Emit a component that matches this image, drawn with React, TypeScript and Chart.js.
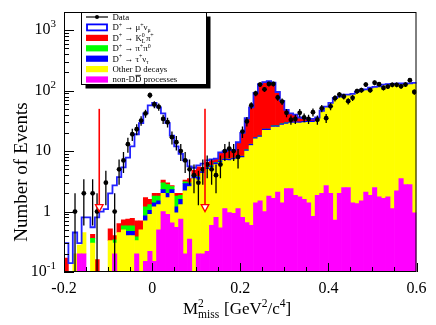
import React, { useEffect, useRef } from 'react';
import { Chart, registerables } from 'chart.js';

Chart.register(...registerables);

const SERIF = '"Liberation Serif", "Times New Roman", serif';

// ---- axes ----
const X_MIN = -0.2;
const X_MAX = 0.6;
const BIN_WIDTH = 0.01;
const Y_MIN = 0.1;
const Y_MAX = 2000;
const X_MAJOR_STEP = 0.2;
const X_MINOR_STEP = 0.05;
const Y_DECADES = [0.1, 1, 10, 100, 1000];

// ---- cut arrows ----
const ARROW_X = [-0.12, 0.12];
const ARROW_TOP = 50;
const ARROW_TIP = 1;

// ---- MC components (80 bins of 0.01 GeV^2/c^4 from -0.2 to 0.6) ----
const nonDD = [
  0, 0, 0, 0.2, 0.2, 0, 0, 0, 0, 0,
  0, 0.2, 0, 0, 0, 0, 0.2, 0, 0.15, 0.22,
  0.15, 0.5, 1.0, 0.9, 0.65, 0.55, 0.75, 0.2, 0.35, 0,
  0.2, 0.2, 0.22, 0.59, 0.8, 0.54, 1.12, 0.96, 0.93, 1.12,
  0.8, 0.66, 0.59, 1.4, 1.5, 1.0, 1.8, 1.65, 2.1, 1.4,
  2.4, 2.4, 1.85, 1.75, 1.6, 1.4, 0.83, 1.85, 2.0, 2.7,
  2.0, 0.72, 2.0, 2.5, 2.5, 1.4, 1.35, 1.5, 2.1, 1.85,
  2.5, 1.75, 1.65, 1.75, 1.12, 2.2, 3.5, 2.8, 2.8, 0.95,
];
const otherD = [
  0, 0, 0.2, 0.08, 0.25, 0, 0.3, 0, 0, 0,
  0.33, 0.1, 0.45, 0.5, 0.4, 0.4, 0.13, 0.5, 0.55, 0.68,
  1.05, 0.8, 1.0, 0.8, 1.35, 0.4, 0.55, 2.0, 2.25, 3.5,
  3.1, 4.1, 4.78, 4.81, 5.2, 6.0, 5.9, 6.0, 6.3, 6.4,
  7.0, 9.3, 11.8, 14.6, 15.5, 21, 20.2, 23.4, 22.9, 25.6,
  25.6, 26.6, 27.2, 27.3, 27.9, 28.6, 29.2, 29.2, 43.5, 51,
  60, 73.8, 76.7, 82.4, 82.4, 85.5, 93.9, 98.9, 101.4, 108.9,
  111.4, 114.2, 122.6, 124.6, 126.2, 126.1, 125.8, 126.5, 127.6, 131.4,
];
const tauNu = [
  0, 0, 0, 0, 0, 0, 0, 0, 0, 0,
  0, 0, 0, 0, 0.07, 0.07, 0, 0, 0.15, 0.15,
  0.2, 0.2, 0.3, 0.3, 0.3, 0.25, 0.3, 0.7, 0.3, 0.4,
  0.4, 0.3, 0.3, 0.3, 0.4, 0.3, 0.35, 0.35, 0.35, 0.4,
  0.4, 0.5, 0.6, 0.8, 0.85, 1.1, 1.1, 1.25, 1.25, 1.35,
  1.4, 1.45, 1.45, 1.5, 1.5, 1.5, 1.5, 1.6, 0.7, 0.8,
  0.9, 1.1, 1.1, 1.2, 1.2, 1.3, 1.4, 1.4, 1.5, 1.6,
  1.6, 1.7, 1.8, 1.8, 1.8, 1.9, 1.9, 1.9, 1.9, 2.0,
];
const pipi0 = [
  0, 0, 0, 0, 0, 0, 0.06, 0, 0, 0,
  0, 0.04, 0, 0.08, 0.11, 0.11, 0.05, 0, 0.35, 0.25,
  0.4, 0.3, 0.7, 0.8, 0.3, 0.6, 0.25, 0.2, 0.1, 0.1,
  0.1, 0.1, 0.1, 0.1, 0.1, 0.1, 0.1, 0.1, 0.1, 0.1,
  0.1, 0.1, 0.1, 0.1, 0.1, 0.1, 0.1, 0.1, 0.1, 0.1,
  0.1, 0, 0, 0, 0, 0, 0, 0, 0, 0,
  0, 0, 0, 0, 0, 0, 0, 0, 0, 0,
  0, 0, 0, 0, 0, 0, 0, 0, 0, 0,
];
const k0pi = [
  0.17, 0, 0, 0, 0, 0, 0.06, 0.16, 0, 0,
  0.19, 0.06, 0.18, 0.15, 0.17, 0.19, 0.32, 0.2, 0.5, 0.3,
  0.2, 0.2, 0.3, 0.2, 0.1, 0.2, 0.15, 0.2, 0.5, 0.8,
  1.7, 0.7, 1.1, 1.2, 0.8, 2.4, 2.4, 2.9, 2.7, 5.9,
  11.6, 24.4, 39.9, 75, 110, 114.8, 119.8, 108.6, 68.6, 39.5,
  18.5, 11.5, 9.5, 5.4, 4.0, 2.5, 2.5, 3.3, 0.3, 0,
  0, 0, 0, 0, 0, 0, 0, 0, 0, 0,
  0, 0, 0, 0, 0, 0, 0, 0, 0, 0,
];
const munu = [
  0.13, 0.14, 0.25, 0.02, 0.35, 0.8, 0.13, 0.64, 1.0, 1.1,
  1.48, 2.3, 3.07, 4.67, 7.05, 11.2, 18.3, 28.3, 40.3, 55.4,
  61, 51, 38.7, 26, 15.3, 10, 7, 3.7, 2.1, 0.5,
  0.3, 0.8, 0.5, 0.3, 0.2, 0.2, 0.15, 0.1, 0.1, 0.1,
  0.1, 0, 0, 0, 0, 0, 0, 0, 0, 0,
  0, 0, 0, 0, 0, 0, 0, 0, 0, 0,
  0, 0, 0, 0, 0, 0, 0, 0, 0, 0,
  0, 0, 0, 0, 0, 0, 0, 0, 0, 0,
];
// ---- data counts ----
const dataCounts = [
  0, 0, 1, 0, 2, 0, 2, 1, 0, 3,
  0, 1, 5, 7, 13, 19, 23, 32, 42, 84,
  59, 54, 34, 30, 17, 14, 10, 7, 5, 4,
  3, 5, 6, 5, 4, 6, 10, 11, 10, 8,
  21, 31, 57, 90, 126, 105, 129, 129, 77, 66,
  43, 33, 34, 43, 36, 34, 44, 33, 51, 35,
  55, 75, 86, 80, 67, 76, 98, 102, 126, 102,
  135, 128, 111, 117, 125, 125, 118, 126, 149, 95,
];

const binCenter = (i: number) => X_MIN + BIN_WIDTH * (i + 0.5);
const barPoints = (arr: number[]) => arr.map((v, i) => ({ x: binCenter(i), y: v > 0 ? v : null }));
const totals = nonDD.map((_, i) => nonDD[i] + otherD[i] + tauNu[i] + pipi0[i] + k0pi[i] + munu[i]);

type Part = [string, string];

function drawRich(ctx: CanvasRenderingContext2D, parts: Part[], x0: number, base: number, size: number) {
  const small = size * 0.68;
  let x = x0;
  ctx.textAlign = 'left';
  ctx.textBaseline = 'alphabetic';
  for (const [t, m] of parts) {
    if (m === '^') {
      ctx.font = `${small}px ${SERIF}`;
      ctx.fillText(t, x, base - size * 0.42);
      x += ctx.measureText(t).width;
    } else if (m === '_') {
      ctx.font = `${small}px ${SERIF}`;
      ctx.fillText(t, x, base + size * 0.22);
      x += ctx.measureText(t).width;
    } else if (m === '_^') {
      const [a, b] = t.split('|');
      ctx.font = `${small}px ${SERIF}`;
      ctx.fillText(a, x, base + size * 0.22);
      ctx.fillText(b, x, base - size * 0.42);
      x += Math.max(ctx.measureText(a).width, ctx.measureText(b).width) + 0.5;
    } else if (m === '-') {
      ctx.font = `${size}px ${SERIF}`;
      ctx.fillText(t, x, base);
      const w = ctx.measureText(t).width;
      ctx.beginPath();
      ctx.moveTo(x + 0.5, base - size * 0.8);
      ctx.lineTo(x + w - 0.5, base - size * 0.8);
      ctx.lineWidth = 0.8;
      ctx.strokeStyle = '#000';
      ctx.stroke();
      x += w;
    } else {
      ctx.font = `${size}px ${SERIF}`;
      ctx.fillText(t, x, base);
      x += ctx.measureText(t).width;
    }
  }
  return x;
}

const LEGEND_ROWS: { kind: string; color: string; parts: Part[] }[] = [
  { kind: 'data', color: '#000', parts: [['Data', '']] },
  { kind: 'outline', color: '#0000ff', parts: [['D', ''], ['+', '^'], [' \u2192 \u03bc', ''], ['+', '^'], ['\u03bd', ''], ['\u03bc', '_']] },
  { kind: 'box', color: '#ff0000', parts: [['D', ''], ['+', '^'], [' \u2192 K', ''], ['L|0', '_^'], ['\u03c0', ''], ['+', '^']] },
  { kind: 'box', color: '#00ff00', parts: [['D', ''], ['+', '^'], [' \u2192 \u03c0', ''], ['+', '^'], ['\u03c0', ''], ['0', '^']] },
  { kind: 'box', color: '#0000ff', parts: [['D', ''], ['+', '^'], [' \u2192 \u03c4', ''], ['+', '^'], ['\u03bd', ''], ['\u03c4', '_']] },
  { kind: 'box', color: '#ffff00', parts: [['Other D decays', '']] },
  { kind: 'box', color: '#ff00ff', parts: [['non-D', ''], ['D', '-'], [' processes', '']] },
];

const decorPlugin = {
  id: 'decor',
  afterDatasetsDraw(chart: any) {
    const { ctx, chartArea: ca, scales } = chart;
    const x = scales.x;
    const y = scales.y;
    ctx.save();
    // error bars
    ctx.beginPath();
    dataCounts.forEach((n, i) => {
      if (n <= 0) return;
      const px = x.getPixelForValue(binCenter(i));
      const e = Math.sqrt(n);
      const lo = n - e > Y_MIN ? y.getPixelForValue(n - e) : ca.bottom;
      const hi = Math.max(y.getPixelForValue(n + e), ca.top);
      ctx.moveTo(px, lo);
      ctx.lineTo(px, hi);
    });
    ctx.strokeStyle = '#000';
    ctx.lineWidth = 1.3;
    ctx.stroke();

    // arrows
    ARROW_X.forEach((ax) => {
      const px = x.getPixelForValue(ax);
      const top = y.getPixelForValue(ARROW_TOP);
      const tip = y.getPixelForValue(ARROW_TIP);
      const h = 7;
      ctx.beginPath();
      ctx.moveTo(px, top);
      ctx.lineTo(px, tip - h);
      ctx.strokeStyle = '#ff0000';
      ctx.lineWidth = 1.6;
      ctx.stroke();
      ctx.beginPath();
      ctx.moveTo(px - 3.8, tip - h);
      ctx.lineTo(px + 3.8, tip - h);
      ctx.lineTo(px, tip);
      ctx.closePath();
      ctx.fillStyle = '#fff';
      ctx.fill();
      ctx.lineWidth = 1.3;
      ctx.stroke();
    });

    // frame
    ctx.strokeStyle = '#000';
    ctx.lineWidth = 1;
    ctx.strokeRect(ca.left + 0.5, ca.top + 0.5, ca.right - ca.left - 1, ca.bottom - ca.top - 1);

    // y ticks (inside)
    ctx.beginPath();
    Y_DECADES.forEach((d) => {
      for (let m = 1; m <= 9; m++) {
        const v = d * m;
        if (v > Y_MAX || v < Y_MIN) continue;
        const py = Math.round(y.getPixelForValue(v)) + 0.5;
        const len = m === 1 ? 10 : 5;
        ctx.moveTo(ca.left, py);
        ctx.lineTo(ca.left + len, py);
      }
    });
    // x ticks (inside)
    const nMinor = Math.round((X_MAX - X_MIN) / X_MINOR_STEP);
    for (let k = 0; k <= nMinor; k++) {
      const v = X_MIN + k * X_MINOR_STEP;
      const px = Math.round(x.getPixelForValue(v)) + 0.5;
      const r = v / X_MAJOR_STEP;
      const major = Math.abs(r - Math.round(r)) < 1e-6;
      const len = major ? 9 : 5;
      ctx.moveTo(px, ca.bottom);
      ctx.lineTo(px, ca.bottom - len);
    }
    ctx.stroke();
    ctx.restore();
  },
  afterDraw(chart: any) {
    const { ctx, scales } = chart;
    const y = scales.y;
    ctx.save();
    ctx.fillStyle = '#000';

    // y tick labels
    Y_DECADES.forEach((v) => {
      const py = y.getPixelForValue(v);
      const k = Math.round(Math.log10(v));
      ctx.textBaseline = 'middle';
      ctx.textAlign = 'right';
      if (k === 0 || k === 1) {
        ctx.font = `16px ${SERIF}`;
        ctx.fillText(k === 0 ? '1' : '10', 51, py);
      } else {
        const exp = String(k);
        ctx.font = `11px ${SERIF}`;
        const ew = ctx.measureText(exp).width;
        ctx.fillText(exp, 56, py - 6);
        ctx.font = `16px ${SERIF}`;
        ctx.fillText('10', 56 - ew, py);
      }
    });

    // axis titles
    ctx.fillStyle = '#000';
    drawRich(ctx, [['M', ''], ['miss|2', '_^'], [' [GeV', ''], ['2', '^'], ['/c', ''], ['4', '^'], [']', '']], 183, 314, 17);
    ctx.save();
    ctx.translate(27, 172);
    ctx.rotate(-Math.PI / 2);
    ctx.font = `19px ${SERIF}`;
    ctx.textAlign = 'center';
    ctx.textBaseline = 'alphabetic';
    ctx.fillText('Number of Events', 0, 0);
    ctx.restore();

    // legend
    const bx = 81.5, by = 12.5, bw = 125, bh = 72;
    ctx.fillStyle = '#000';
    ctx.fillRect(bx + 4, by + 4, bw, bh);
    ctx.fillStyle = '#fff';
    ctx.fillRect(bx, by, bw, bh);
    ctx.strokeStyle = '#000';
    ctx.lineWidth = 1;
    ctx.strokeRect(bx, by, bw, bh);
    LEGEND_ROWS.forEach((row, i) => {
      const cy = 17 + 10.4 * i;
      if (row.kind === 'data') {
        ctx.beginPath();
        ctx.moveTo(86, cy);
        ctx.lineTo(108, cy);
        ctx.strokeStyle = '#000';
        ctx.lineWidth = 1.2;
        ctx.stroke();
        ctx.beginPath();
        ctx.arc(97, cy, 2, 0, Math.PI * 2);
        ctx.fillStyle = '#000';
        ctx.fill();
      } else if (row.kind === 'outline') {
        ctx.fillStyle = '#fff';
        ctx.fillRect(87, cy - 3, 20, 6);
        ctx.strokeStyle = row.color;
        ctx.lineWidth = 1.8;
        ctx.strokeRect(87, cy - 3, 20, 6);
      } else {
        ctx.fillStyle = row.color;
        ctx.fillRect(86, cy - 3, 22, 6.2);
      }
      ctx.fillStyle = '#000';
      drawRich(ctx, row.parts, 112.5, cy + 3, 8.8);
    });
    ctx.restore();
  },
};

function buildConfig(): any {
  const bar = (label: string, arr: number[], color: string, order: number) => ({
    type: 'bar',
    label,
    data: barPoints(arr),
    backgroundColor: color,
    borderWidth: 0,
    barPercentage: 1,
    categoryPercentage: 1,
    stack: 'mc',
    order,
  });
  const outline: { x: number; y: number }[] = [{ x: X_MIN, y: Y_MIN }];
  totals.forEach((t, i) => {
    outline.push({ x: X_MIN + BIN_WIDTH * i, y: t }, { x: X_MIN + BIN_WIDTH * (i + 1), y: t });
  });
  return {
    type: 'bar',
    data: {
      datasets: [
        {
          type: 'line',
          label: 'Data',
          data: dataCounts.map((n, i) => ({ x: binCenter(i), y: n > 0 ? n : null })),
          showLine: false,
          pointRadius: 2.4,
          pointHoverRadius: 2.4,
          pointBackgroundColor: '#000',
          pointBorderColor: '#000',
          pointBorderWidth: 0,
          stack: 'data',
          order: 0,
        },
        {
          type: 'line',
          label: 'D+ -> mu+ nu',
          data: outline,
          borderColor: '#2222ff',
          borderWidth: 1.8,
          pointRadius: 0,
          fill: false,
          tension: 0,
          stack: 'outline',
          order: 1,
        },
        bar('non-DDbar processes', nonDD, '#ff00ff', 2),
        bar('Other D decays', otherD, '#ffff00', 3),
        bar('D+ -> tau+ nu', tauNu, '#0000ff', 4),
        bar('D+ -> pi+ pi0', pipi0, '#00ff00', 5),
        bar('D+ -> K0L pi+', k0pi, '#ff0000', 6),
      ],
    },
    options: {
      animation: false,
      responsive: false,
      devicePixelRatio: 1,
      events: [],
      layout: { padding: { top: 12, right: 19.5, left: 0, bottom: 0 } },
      plugins: { legend: { display: false }, tooltip: { enabled: false } },
      scales: {
        x: {
          type: 'linear',
          min: X_MIN,
          max: X_MAX,
          offset: false,
          grid: { display: false, drawTicks: false },
          border: { display: false },
          ticks: {
            stepSize: X_MAJOR_STEP,
            autoSkip: false,
            maxRotation: 0,
            padding: 7,
            color: '#000',
            font: { family: SERIF, size: 16 },
            callback: (v: number) => (Math.abs(v) < 1e-9 ? '0' : String(Math.round(v * 10) / 10)),
          },
          afterFit: (s: any) => {
            s.height = 53;
          },
        },
        y: {
          type: 'logarithmic',
          min: Y_MIN,
          max: Y_MAX,
          stacked: true,
          beginAtZero: false,
          grid: { display: false, drawTicks: false },
          border: { display: false },
          ticks: { display: false },
          afterFit: (s: any) => {
            s.width = 64;
          },
        },
      },
    },
    plugins: [decorPlugin],
  };
}

export default function App() {
  const ref = useRef<HTMLCanvasElement>(null);
  useEffect(() => {
    document.body.style.margin = '0';
    const chart = new Chart(ref.current as HTMLCanvasElement, buildConfig());
    return () => chart.destroy();
  }, []);
  return (
    <div style={{ position: 'fixed', left: 0, top: 0, width: 436, height: 325, background: '#fff' }}>
      <canvas ref={ref} width={436} height={325} style={{ display: 'block', width: 436, height: 325 }} />
    </div>
  );
}
